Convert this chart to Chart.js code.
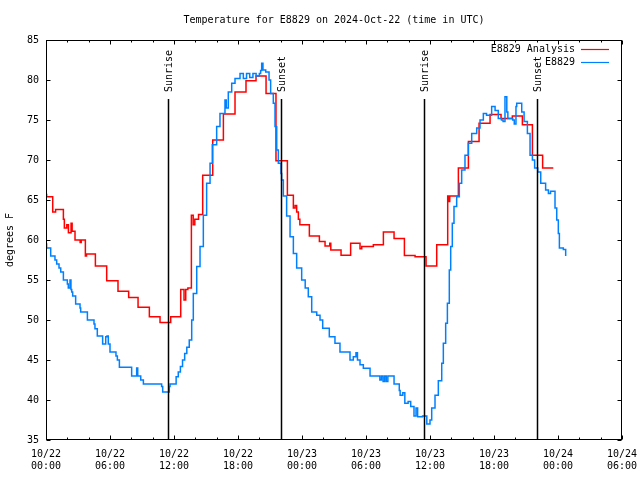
<!DOCTYPE html>
<html>
<head>
<meta charset="utf-8">
<script src="https://cdn.jsdelivr.net/npm/chart.js@4/dist/chart.umd.min.js"></script>
<style>
html,body{margin:0;padding:0;background:#fff;}
canvas{display:block;}
</style>
</head>
<body>
<canvas id="c" width="640" height="480"></canvas>
<script>
// ---- Data (hours since 10/22 00:00 UTC, degrees F) ----
const analysisHours = [0.00,0.06,0.63,0.90,1.63,1.72,1.95,2.10,2.35,2.45,2.72,3.20,3.30,3.69,3.80,4.63,5.69,6.75,7.75,8.63,9.69,10.69,11.69,12.63,12.94,13.10,13.30,13.63,13.80,13.95,14.30,14.69,15.63,16.63,17.72,18.75,19.69,20.63,21.56,22.63,23.19,23.35,23.50,23.66,23.80,24.69,25.63,26.16,26.60,26.70,27.66,28.56,29.44,29.60,30.69,31.63,32.63,33.60,34.60,35.63,36.63,37.66,37.75,37.85,38.66,39.60,40.60,41.63,42.66,43.72,44.66,45.60,46.56,47.56];
const analysisTemps = [65.7,65.4,63.5,63.8,62.6,61.5,61.9,60.9,62.1,61.1,60.0,59.7,60.0,58.0,58.25,56.75,54.9,53.6,52.8,51.6,50.4,49.7,50.4,53.8,52.5,53.8,54.0,63.1,61.9,62.6,63.2,68.1,72.5,75.75,78.5,79.9,80.5,78.3,69.9,65.6,64.0,64.3,63.5,62.6,61.9,60.5,59.8,59.25,59.6,58.75,58.1,59.6,58.9,59.2,59.4,61.0,60.2,58.05,57.9,56.75,59.4,65.5,64.8,65.5,69.0,72.3,74.6,75.7,75.2,75.5,74.4,70.6,69.0,69.0];

const obsHours = [0.00,0.06,0.44,0.84,1.00,1.22,1.38,1.63,2.00,2.09,2.25,2.34,2.41,2.50,2.78,3.19,3.25,3.88,4.50,4.59,4.81,5.31,5.60,5.72,5.84,6.00,6.56,6.69,6.88,8.03,8.50,8.60,8.88,9.13,10.84,10.94,11.56,11.63,12.20,12.40,12.60,12.80,13.00,13.20,13.43,13.66,13.81,14.13,14.44,14.75,15.06,15.38,15.59,16.00,16.31,16.78,16.90,17.09,17.41,17.72,18.19,18.50,18.80,19.10,19.40,19.70,20.00,20.12,20.22,20.34,20.60,20.91,21.06,21.31,21.47,21.63,21.78,22.03,22.09,22.25,22.56,22.88,23.19,23.50,23.97,24.30,24.59,24.91,25.38,25.69,25.94,26.56,27.09,27.56,28.50,28.81,29.06,29.20,29.44,29.75,30.38,31.30,31.45,31.60,31.75,31.90,32.05,32.63,33.12,33.20,33.45,33.64,33.95,34.19,34.50,34.69,34.84,35.30,35.70,36.00,36.16,36.47,36.78,37.10,37.25,37.47,37.63,37.81,37.94,38.09,38.25,38.50,38.75,38.97,39.28,39.59,39.91,40.38,40.69,41.00,41.30,41.78,42.10,42.40,42.70,42.85,43.03,43.20,43.30,43.75,43.90,44.06,44.13,44.50,44.60,44.82,45.13,45.38,45.60,45.81,46.10,46.38,46.84,47.10,47.30,47.72,47.88,48.03,48.13,48.50,48.72];
const obsTemps = [59.5,59.0,58.0,57.5,57.0,56.5,56.0,55.0,54.5,54.0,55.0,53.8,53.5,53.0,52.0,51.5,51.0,50.0,49.5,48.9,48.0,47.0,47.9,48.0,47.0,46.0,45.5,45.0,44.1,43.0,44.0,43.0,42.5,42.0,41.7,41.0,41.7,42.0,42.9,43.5,44.2,45.0,45.8,46.6,47.5,50.0,53.3,56.7,59.2,63.1,67.1,69.6,71.9,74.2,75.8,77.5,76.5,78.5,79.6,80.2,80.8,80.2,80.8,80.3,80.8,80.5,80.8,81.2,82.1,81.25,81.0,80.0,78.3,77.1,74.2,71.25,69.6,68.3,67.5,65.5,63.0,60.4,58.3,56.5,55.0,54.0,52.9,51.0,50.6,50.0,48.96,47.9,47.1,46.0,45.0,45.4,45.9,45.0,44.4,43.96,43.0,42.5,43.0,42.3,43.0,42.3,43.0,42.0,41.2,40.6,40.9,39.6,39.8,39.2,38.0,39.0,37.9,38.0,37.0,37.5,39.0,40.6,42.4,44.6,47.1,49.6,52.1,56.25,59.2,62.1,64.2,65.4,67.1,68.75,70.6,72.1,73.3,74.0,75.0,75.8,75.6,76.7,76.2,75.2,75.0,74.8,77.9,76.0,75.2,75.0,74.5,76.7,77.1,77.1,76.0,74.8,73.3,70.6,70.0,69.0,68.5,67.1,66.25,65.8,66.1,64.0,62.5,60.8,59.0,58.8,58.0];

const sunHours = [11.47, 22.05, 35.46, 46.06];
const sunLabels = ['Sunrise', 'Sunset', 'Sunrise', 'Sunset'];

const xTickLabels = [['10/22','00:00'],['10/22','06:00'],['10/22','12:00'],['10/22','18:00'],['10/23','00:00'],['10/23','06:00'],['10/23','12:00'],['10/23','18:00'],['10/24','00:00'],['10/24','06:00']];
const yMin = 35, yMax = 85, yStep = 5;
const xMin = 0, xMax = 54, xStep = 6, xMinorStep = 2;

const titleText = 'Temperature for E8829 on 2024-Oct-22 (time in UTC)';
const seriesNames = ['E8829 Analysis', 'E8829'];
const seriesColors = ['#ff0000', '#0080ff'];

const FONT = 'DejaVu Sans Mono';

function toPoints(xs, ys) { return xs.map((x, i) => ({ x: x, y: ys[i] })); }

const framePlugin = {
  id: 'gnuFrame',
  afterDatasetsDraw(chart) {
    const ctx = chart.ctx;
    const a = chart.chartArea;
    const xs = chart.scales.x, ys = chart.scales.y;
    ctx.save();
    // title, centred over the plot area
    ctx.font = '10px "' + FONT + '"';
    ctx.fillStyle = '#000';
    ctx.textAlign = 'center';
    ctx.textBaseline = 'middle';
    ctx.fillText(titleText, (a.left + a.right) / 2, a.top - 20);
    // sun lines
    ctx.strokeStyle = '#000';
    ctx.lineWidth = 1.5;
    sunHours.forEach((h, i) => {
      const px = Math.round(xs.getPixelForValue(h)) + 0.5;
      ctx.beginPath();
      ctx.moveTo(px, a.top + 59);
      ctx.lineTo(px, a.bottom);
      ctx.stroke();
      ctx.save();
      ctx.translate(px + 1, a.top + 52);
      ctx.rotate(-Math.PI / 2);
      ctx.textAlign = 'left';
      ctx.textBaseline = 'middle';
      ctx.fillText(sunLabels[i], 0, 0);
      ctx.restore();
    });
    // frame
    ctx.lineWidth = 1;
    ctx.strokeStyle = '#000';
    const L = Math.round(a.left) + 0.5, R = Math.round(a.right) - 0.5;
    const T = Math.round(a.top) + 0.5, B = Math.round(a.bottom) - 0.5;
    ctx.strokeRect(L, T, R - L, B - T);
    // x ticks (major every 6h, minor every 2h), mirrored on top
    ctx.beginPath();
    for (let v = xMin; v <= xMax; v += xMinorStep) {
      const px = Math.round(xs.getPixelForValue(v)) + 0.5;
      const len = (v % xStep === 0) ? 4 : 2;
      ctx.moveTo(px, B); ctx.lineTo(px, B - len);
      ctx.moveTo(px, T); ctx.lineTo(px, T + len);
    }
    // y ticks, mirrored on right
    for (let v = yMin; v <= yMax; v += yStep) {
      const py = Math.round(ys.getPixelForValue(v)) + 0.5;
      ctx.moveTo(L, py); ctx.lineTo(L + 4, py);
      ctx.moveTo(R, py); ctx.lineTo(R - 4, py);
    }
    ctx.stroke();
    // legend
    ctx.textAlign = 'right';
    ctx.textBaseline = 'middle';
    seriesNames.forEach((name, i) => {
      const y = a.top + 9 + i * 13;
      ctx.fillStyle = '#000';
      ctx.fillText(name, a.right - 47, y);
      ctx.strokeStyle = seriesColors[i];
      ctx.lineWidth = 1.2;
      ctx.beginPath();
      ctx.moveTo(a.right - 41, y + 0.5);
      ctx.lineTo(a.right - 13, y + 0.5);
      ctx.stroke();
    });
    ctx.restore();
  }
};

new Chart(document.getElementById('c'), {
  type: 'line',
  data: {
    datasets: [
      {
        label: seriesNames[0],
        data: toPoints(analysisHours, analysisTemps),
        borderColor: seriesColors[0],
        borderWidth: 1.5,
        pointRadius: 0,
        stepped: true,
        fill: false,
        order: 2
      },
      {
        label: seriesNames[1],
        data: toPoints(obsHours, obsTemps),
        borderColor: seriesColors[1],
        borderWidth: 1.5,
        pointRadius: 0,
        stepped: true,
        fill: false,
        order: 1
      }
    ]
  },
  options: {
    responsive: false,
    animation: false,
    devicePixelRatio: 1,
    layout: { padding: { left: 0, right: 18, top: 40, bottom: 0 } },
    plugins: {
      legend: { display: false },
      tooltip: { enabled: false },
      title: { display: false }
    },
    scales: {
      x: {
        type: 'linear',
        min: xMin, max: xMax,
        grid: { display: false, drawTicks: false },
        border: { display: false },
        afterFit(s) { s.height = 40; s.paddingLeft = 0; s.paddingRight = 0; },
        ticks: {
          stepSize: xStep,
          autoSkip: false,
          maxRotation: 0,
          padding: 8,
          color: '#000',
          font: { family: FONT, size: 10, lineHeight: 1.25 },
          callback: (v) => xTickLabels[Math.round(v / xStep)]
        }
      },
      y: {
        min: yMin, max: yMax,
        grid: { display: false, drawTicks: false },
        border: { display: false },
        afterFit(s) { s.width = 46; s.paddingTop = 0; s.paddingBottom = 0; },
        title: {
          display: true,
          text: 'degrees F',
          color: '#000',
          font: { family: FONT, size: 10, lineHeight: 1.2 },
          padding: { top: 4, bottom: 0 }
        },
        ticks: {
          stepSize: yStep,
          padding: 7,
          color: '#000',
          font: { family: FONT, size: 10 }
        }
      }
    }
  },
  plugins: [framePlugin]
});
</script>
</body>
</html>
